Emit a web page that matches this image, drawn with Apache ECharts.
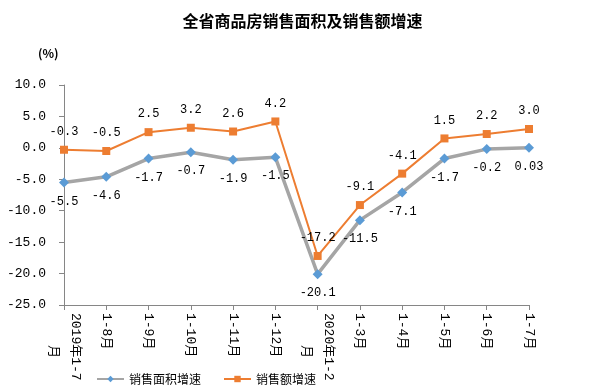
<!DOCTYPE html>
<html><head><meta charset="utf-8">
<script src="https://cdn.jsdelivr.net/npm/echarts@6/dist/echarts.min.js"></script>
<style>html,body{margin:0;padding:0;background:#fff}#c{width:605px;height:389px}</style>
</head><body><div id="c"></div>
<script>
var categories = ["2019年1-7月","1-8月","1-9月","1-10月","1-11月","1-12月","2020年1-2月","1-3月","1-4月","1-5月","1-6月","1-7月"];
var areaGrowth = [-5.5,-4.6,-1.7,-0.7,-1.9,-1.5,-20.1,-11.5,-7.1,-1.7,-0.2,0.03];
var amountGrowth = [-0.3,-0.5,2.5,3.2,2.6,4.2,-17.2,-9.1,-4.1,1.5,2.2,3.0];
var seriesNames = ["销售面积增速","销售额增速"];
var titleText = "全省商品房销售面积及销售额增速";
var unitText = "(%)";

var mono = "'Liberation Mono','Noto Sans CJK SC',monospace";
function fmtVal(v){ return Math.abs(v*10 - Math.round(v*10)) > 1e-9 ? v.toFixed(2) : v.toFixed(1); }

var chart = echarts.init(document.getElementById('c'));
chart.setOption({
  animation:false,
  title:{text:titleText,left:'center',top:8,textStyle:{fontSize:16,fontWeight:'bold',color:'#000',fontFamily:"'Noto Sans CJK SC'"}},
  graphic:[{type:'text',left:38,top:47,style:{text:unitText,font:"bold 12px 'Noto Sans CJK SC'",fill:'#000'}}],
  legend:{left:91,top:368,itemWidth:27,itemHeight:8,itemGap:22,
    textStyle:{fontSize:12,color:'#000',fontFamily:"'Noto Sans CJK SC'"},
    data:seriesNames},
  grid:{left:64,right:76,top:85,bottom:84,containLabel:false},
  xAxis:{type:'category',data:categories,boundaryGap:false,
    axisLine:{onZero:false,lineStyle:{color:'#868686'}},
    axisTick:{show:true,length:5,alignWithLabel:true,lineStyle:{color:'#868686'}},
    axisLabel:{rotate:-90,interval:0,margin:8,color:'#000',fontSize:13,fontFamily:mono,
      formatter:function(v){
        var m = v.match(/^(\d{4}年1-\d+)(月)$/);
        if(m) return '{a|'+m[1]+'}\n{b|'+m[2]+'}';
        return v;
      },
      rich:{a:{fontSize:13,fontFamily:mono,color:'#000',lineHeight:22},b:{fontSize:13,fontFamily:mono,color:'#000',padding:[0,0,0,32],lineHeight:22}}
    }},
  yAxis:{type:'value',min:-25,max:10,interval:5,
    axisLine:{show:true,lineStyle:{color:'#868686'}},
    axisTick:{show:true,length:5,lineStyle:{color:'#868686'}},
    splitLine:{show:false},
    axisLabel:{margin:18,color:'#000',fontSize:13,fontFamily:mono,formatter:function(v){return v.toFixed(1);}}},
  series:[
    {name:seriesNames[0],type:'line',data:areaGrowth,symbol:'diamond',symbolSize:10,
     lineStyle:{color:'#a5a5a5',width:3.5},itemStyle:{color:'#5b9bd5'},
     label:{show:true,position:'bottom',distance:8,color:'#000',fontSize:12,fontFamily:mono,formatter:function(p){return fmtVal(p.value);}}},
    {name:seriesNames[1],type:'line',data:amountGrowth,symbol:'rect',symbolSize:8,
     lineStyle:{color:'#ed7d31',width:2},itemStyle:{color:'#ed7d31'},
     label:{show:true,position:'top',distance:8,color:'#000',fontSize:12,fontFamily:mono,formatter:function(p){return fmtVal(p.value);}}}
  ]
});
</script></body></html>
